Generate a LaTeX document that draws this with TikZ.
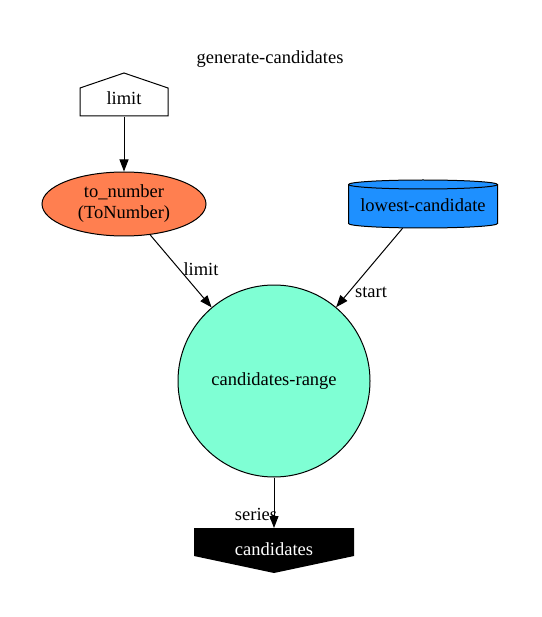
\documentclass[tikz,border=0pt]{standalone}
\usepackage{fontspec}
\setmainfont{Liberation Serif}
\usetikzlibrary{arrows.meta,shapes.geometric}
\definecolor{coral}{HTML}{FF7F50}
\definecolor{dodger}{HTML}{1E90FF}
\definecolor{aqua}{HTML}{7FFFD4}
\begin{document}
\begin{tikzpicture}[x=1pt,y=-1pt,
  every node/.style={font=\fontsize{18.5}{21}\selectfont, inner sep=0pt},
  edge/.style={draw, line width=1pt, -{Triangle[length=12pt,width=9pt]}},
  lbl/.style={font=\fontsize{18.5}{21}\selectfont}]
\useasboundingbox (0,0) rectangle (541,617);
\node (title) at (270,59) {generate-candidates};
% limit house
\node (limit) [minimum width=88pt, minimum height=43pt] at (124,95) {};
\draw[line width=1pt, fill=white] (80,116) -- (80,88) -- (124,73) -- (168,88) -- (168,116) -- cycle;
\node at (124,98) {limit};
% ellipse
\node (tonum) [ellipse, draw, line width=1pt, fill=coral, minimum width=164pt, minimum height=64pt, align=center] at (124,204) {to\_number\\(ToNumber)};
% cylinder
\node (low) [minimum width=149pt, minimum height=48pt] at (423,204) {};
\draw[line width=1pt, fill=dodger] (348.5,184.5) -- (348.5,223.5) arc[start angle=180,end angle=360,x radius=74.5pt,y radius=4.5pt] -- (497.5,184.5) arc[start angle=0,end angle=180,x radius=74.5pt,y radius=4.5pt] -- cycle;
\draw[line width=1pt] (348.5,184.5) arc[start angle=180,end angle=360,x radius=74.5pt,y radius=4.5pt];
\node at (423,205) {lowest-candidate};
% circle
\node (range) [circle, draw, line width=1pt, fill=aqua, minimum size=192pt] at (274,381) {candidates-range};
% output
\node (cand) [minimum width=160pt, minimum height=45pt] at (274,550) {};
\fill[black] (194,528) -- (354,528) -- (354,556) -- (274,573) -- (194,556) -- cycle;
\node[text=white] at (274,549) {candidates};
\coordinate (candtop) at (274,528);
% edges
\draw[edge] (limit.south) -- (tonum.north);
\draw[edge] (tonum) -- (range);
\node[lbl] at (201,269) {limit};
\draw[edge] (low) -- (range);
\node[lbl] at (371,292) {start};
\draw[edge] (range.south) -- (candtop);
\node[lbl] at (256,514) {series};
\end{tikzpicture}
\end{document}
